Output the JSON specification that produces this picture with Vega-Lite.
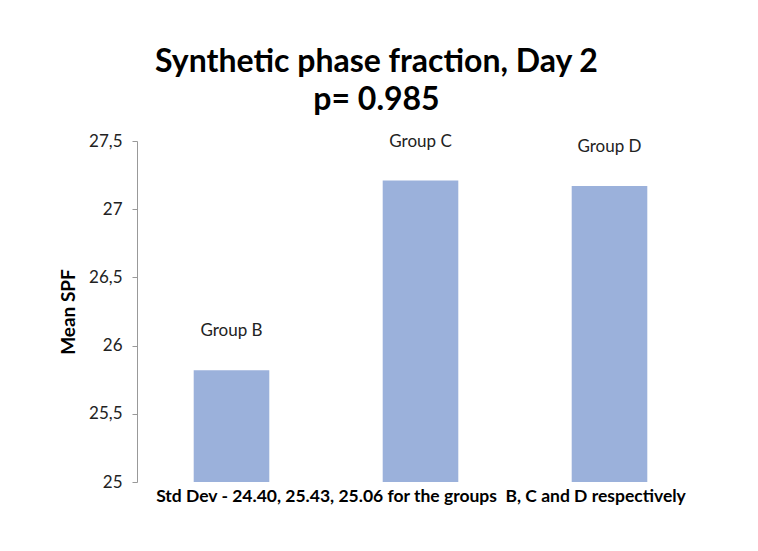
{
  "$schema": "https://vega.github.io/schema/vega-lite/v6.json",
  "width": 567,
  "height": 341,
  "autosize": {"type": "none"},
  "padding": {"left": 137, "top": 141, "right": 54, "bottom": 69},
  "background": "white",
  "title": {
    "text": ["Synthetic phase fraction, Day 2", "p= 0.985"],
    "font": "Lato",
    "fontSize": 32,
    "fontWeight": "bold",
    "color": "#000000",
    "lineHeight": 38,
    "anchor": "middle",
    "frame": "group",
    "dx": -44,
    "offset": 15
  },
  "data": {
    "values": [
      {"group": "Group B", "spf": 25.82},
      {"group": "Group C", "spf": 27.21},
      {"group": "Group D", "spf": 27.17}
    ]
  },
  "encoding": {
    "x": {
      "field": "group",
      "type": "nominal",
      "sort": null,
      "scale": {"paddingInner": 0.6, "paddingOuter": 0.3},
      "axis": {
        "domain": false,
        "ticks": false,
        "labels": false,
        "title": "Std Dev - 24.40, 25.43, 25.06 for the groups\u00a0 B, C and D respectively",
        "titleFont": "Lato",
        "titleFontSize": 17.5,
        "titleFontWeight": "bold",
        "titleColor": "#000000",
        "titlePadding": 5
      }
    },
    "y": {
      "field": "spf",
      "type": "quantitative",
      "scale": {"domain": [25, 27.5], "zero": false, "nice": false},
      "axis": {
        "title": "Mean SPF",
        "values": [25, 25.5, 26, 26.5, 27, 27.5],
        "labelExpr": "replace(format(datum.value, '.1~f'), '.', ',')",
        "grid": false,
        "domainColor": "#999999",
        "tickColor": "#999999",
        "tickSize": 5,
        "labelFont": "Lato",
        "labelFontSize": 17,
        "labelColor": "#222222",
        "labelPadding": 10,
        "titleFont": "Lato",
        "titleFontSize": 19,
        "titleFontWeight": "bold",
        "titleColor": "#000000",
        "titlePadding": 10
      }
    }
  },
  "layer": [
    {
      "mark": {"type": "bar", "color": "#9BB1DB"},
      "encoding": {"y2": {"datum": 25}}
    },
    {
      "mark": {"type": "text", "font": "Lato", "fontSize": 17, "color": "#222222", "baseline": "bottom", "dy": -30},
      "encoding": {"text": {"field": "group"}}
    }
  ],
  "config": {"view": {"stroke": null}}
}
